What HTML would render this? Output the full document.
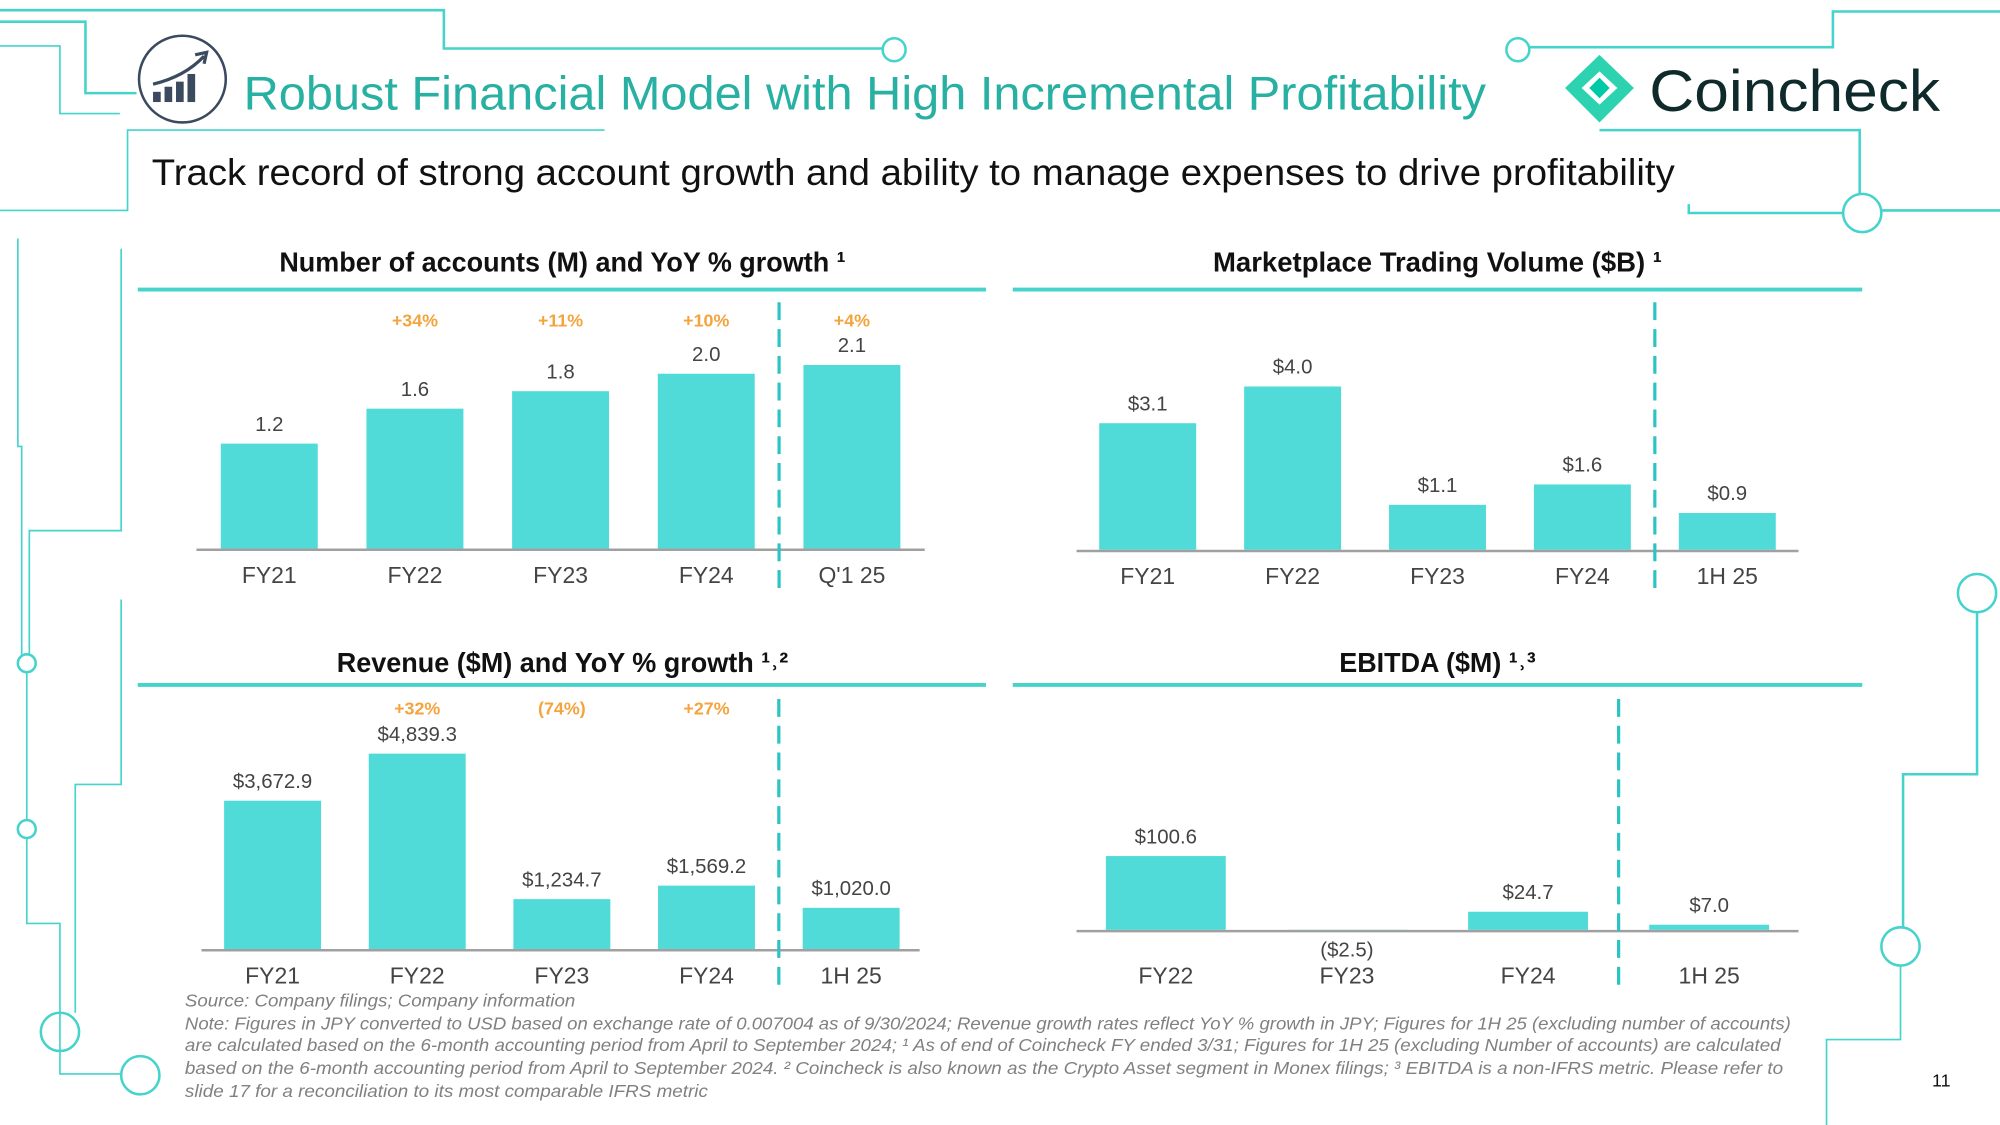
<!DOCTYPE html>
<html><head><meta charset="utf-8"><style>
html,body{margin:0;padding:0;background:#fff;}
svg{display:block;font-family:"Liberation Sans",sans-serif;}
</style></head><body>
<svg id="slide" width="2000" height="1125" viewBox="0 0 1568 882" preserveAspectRatio="none" xmlns="http://www.w3.org/2000/svg">
<g fill="none" stroke="#45d3cc" stroke-width="2">
  <polyline points="0,8 348,8 348,38 692,38"/>
  <circle cx="701" cy="39" r="9"/>
  <polyline points="0,17 67,17 67,73 107,73"/>
  <polyline points="0,36 47,36 47,89 94,89" stroke-width="1.3"/>
  <polyline points="474,102 100,102 100,165 0,165" stroke-width="1.3"/>
  <circle cx="1190" cy="39" r="9"/>
  <polyline points="1199,37 1437,37 1437,9 1568,9"/>
  <polyline points="1254,102 1458,102 1458,152"/>
  <circle cx="1460" cy="167" r="15"/>
  <polyline points="1324,160 1324,167 1445,167"/>
  <line x1="1475" y1="165" x2="1568" y2="165"/>
  <polyline points="14,187 14,350 17,350 17,513" stroke-width="1.3"/>
  <circle cx="21" cy="520" r="7"/>
  <line x1="21" y1="527" x2="21" y2="643" stroke-width="1.3"/>
  <circle cx="21" cy="650" r="7"/>
  <polyline points="21,657 21,724 47,724 47,842 95,842" stroke-width="1.3"/>
  <circle cx="110" cy="843" r="15"/>
  <polyline points="95,195 95,416 23,416 23,513" stroke-width="1.3"/>
  <polyline points="95,470 95,615 59,615 59,794" stroke-width="1.3"/>
  <circle cx="47" cy="809" r="15"/>
  <circle cx="1550" cy="465" r="15"/>
  <polyline points="1550,480 1550,607 1492,607 1492,727"/>
  <circle cx="1490" cy="742" r="15"/>
  <polyline points="1490,757 1490,815 1432,815 1432,882" stroke-width="1.3"/>
</g>
<g>
  <circle cx="143" cy="62" r="34" fill="#fff" stroke="#3b4a5e" stroke-width="2"/>
  <rect x="120" y="72" width="6" height="8" fill="#3b4a5e"/>
  <rect x="129" y="68" width="6" height="12" fill="#3b4a5e"/>
  <rect x="138" y="64" width="6" height="16" fill="#3b4a5e"/>
  <rect x="147" y="58" width="6" height="22" fill="#3b4a5e"/>
  <path d="M120,66 Q145,60 160,44" fill="none" stroke="#3b4a5e" stroke-width="2.5"/>
  <path d="M153,43 L162,41 L160,50" fill="none" stroke="#3b4a5e" stroke-width="2.5"/>
</g>
<text x="191" y="86" font-size="37" fill="#28b0a3" textLength="974" lengthAdjust="spacingAndGlyphs">Robust Financial Model with High Incremental Profitability</text>
<g>
  <polygon points="1254,43 1281,69 1254,96 1227,69" fill="#2dd3b0"/>
  <polygon points="1254,56 1268,69 1254,82 1240,69" fill="#fff"/>
  <polygon points="1254,61 1262,69 1254,77 1246,69" fill="#00c9a7"/>
  <text x="1293" y="87" font-size="46" fill="#0f2a2a" textLength="228" lengthAdjust="spacingAndGlyphs">Coincheck</text>
</g>
<text x="119" y="145" font-size="29" fill="#111" textLength="1194" lengthAdjust="spacingAndGlyphs">Track record of strong account growth and ability to manage expenses to drive profitability</text>

<g>
  <text x="441" y="213" font-size="22" font-weight="bold" text-anchor="middle" fill="#111" textLength="444" lengthAdjust="spacingAndGlyphs">Number of accounts (M) and YoY % growth ¹</text>
  <line x1="108" y1="227" x2="773" y2="227" stroke="#45d3cc" stroke-width="3"/>
  <text x="1127" y="213" font-size="22" font-weight="bold" text-anchor="middle" fill="#111" textLength="352" lengthAdjust="spacingAndGlyphs">Marketplace Trading Volume ($B) ¹</text>
  <line x1="794" y1="227" x2="1460" y2="227" stroke="#45d3cc" stroke-width="3"/>
  <text x="441" y="527" font-size="22" font-weight="bold" text-anchor="middle" fill="#111" textLength="354" lengthAdjust="spacingAndGlyphs">Revenue ($M) and YoY % growth ¹˒²</text>
  <line x1="108" y1="537" x2="773" y2="537" stroke="#45d3cc" stroke-width="3"/>
  <text x="1127" y="527" font-size="22" font-weight="bold" text-anchor="middle" fill="#111" textLength="154" lengthAdjust="spacingAndGlyphs">EBITDA ($M) ¹˒³</text>
  <line x1="794" y1="537" x2="1460" y2="537" stroke="#45d3cc" stroke-width="3"/>
</g>
<g id="charts"></g>
<g font-size="14" font-style="italic" fill="#808080">
  <text x="145" y="789" textLength="306" lengthAdjust="spacingAndGlyphs">Source: Company filings; Company information</text>
  <text x="145" y="807" textLength="1259" lengthAdjust="spacingAndGlyphs">Note: Figures in JPY converted to USD based on exchange rate of 0.007004 as of 9/30/2024; Revenue growth rates reflect YoY % growth in JPY; Figures for 1H 25 (excluding number of accounts)</text>
  <text x="145" y="824" textLength="1251" lengthAdjust="spacingAndGlyphs">are calculated based on the 6-month accounting period from April to September 2024; ¹ As of end of Coincheck FY ended 3/31; Figures for 1H 25  (excluding Number of accounts) are calculated</text>
  <text x="145" y="842" textLength="1253" lengthAdjust="spacingAndGlyphs">based on the 6-month accounting period from April to September 2024. ² Coincheck is also known as the Crypto Asset segment in Monex filings; ³ EBITDA is a non-IFRS metric. Please refer to</text>
  <text x="145" y="860" textLength="410" lengthAdjust="spacingAndGlyphs">slide 17 for a reconciliation to its most comparable IFRS metric</text>
</g>
<text x="1522" y="852" font-size="14" text-anchor="middle" fill="#111">11</text>
</svg>
<script>
// Accounts chart data
const accCategories = ["FY21","FY22","FY23","FY24","Q'1 25"];
const accValues = [1.2, 1.6, 1.8, 2.0, 2.1];
const accLabels = ["1.2","1.6","1.8","2.0","2.1"];
const accGrowth = ["","+34%","+11%","+10%","+4%"];
// Volume chart data
const volCategories = ["FY21","FY22","FY23","FY24","1H 25"];
const volValues = [3.1, 4.0, 1.1, 1.6, 0.9];
const volLabels = ["$3.1","$4.0","$1.1","$1.6","$0.9"];
// Revenue chart data
const revCategories = ["FY21","FY22","FY23","FY24","1H 25"];
const revValues = [3672.9, 4839.3, 1234.7, 1569.2, 1020.0];
const revLabels = ["$3,672.9","$4,839.3","$1,234.7","$1,569.2","$1,020.0"];
const revGrowth = ["","+32%","(74%)","+27%",""];
// EBITDA chart data
const ebCategories = ["FY22","FY23","FY24","1H 25"];
const ebValues = [100.6, -2.5, 24.7, 7.0];
const ebLabels = ["$100.6","($2.5)","$24.7","$7.0"];

const NS = "http://www.w3.org/2000/svg";
const root = document.getElementById("charts");
function mk(tag, attrs, parent, text){
  const e = document.createElementNS(NS, tag);
  for (const k in attrs) e.setAttribute(k, attrs[k]);
  if (text !== undefined) e.textContent = text;
  parent.appendChild(e);
  return e;
}
function drawChart(name, cats, vals, labels, growth, o){
  const g = mk("g", {}, root);
  
  
  const n = cats.length;
  const step = (o.x1 - o.x0) / n;
  const xc = i => o.x0 + step * (i + 0.5);
  const yv = v => o.base - v * o.scale;
  vals.forEach((v, i) => {
    const top = Math.min(yv(v), o.base), h = Math.max(Math.abs(yv(v) - o.base), 1.5);
    const r = mk("rect", {x: xc(i) - o.bw/2, y: top, width: o.bw, height: h, fill: "#50dbd9"}, g);
    
    
    const ly = v >= 0 ? yv(v) - 10 : o.base + 21;
    const t = mk("text", {x: xc(i), y: ly, "font-size": 16, "text-anchor": "middle", fill: "#444"}, g, labels[i]);
    
    
    const c = mk("text", {x: xc(i), y: o.catY, "font-size": 18, "text-anchor": "middle", fill: "#444"}, g, cats[i]);
    
    
    if (growth && growth[i]) {
      const gt = mk("text", {x: xc(i), y: o.growthY, "font-size": 14, "font-weight": "bold", "text-anchor": "middle", fill: "#f5a33d"}, g, growth[i]);
      
      
    }
  });
  const ax = mk("line", {x1: o.ax0, x2: o.ax1, y1: o.base + 1, y2: o.base + 1, stroke: "#a0a0a0", "stroke-width": 2}, g);
  
  
  const dx = o.x0 + step * (n - 1);
  const d = mk("line", {x1: dx, x2: dx, y1: o.dash0, y2: o.dash1, stroke: "#2bc3c3", "stroke-width": 2.5, "stroke-dasharray": "14,7"}, g);
  
  
}
drawChart("accounts-chart", accCategories, accValues, accLabels, accGrowth,
  {x0: 154, x1: 725, ax0: 154, ax1: 725, base: 430, scale: 68.5, bw: 76, catY: 457, growthY: 256, dash0: 237, dash1: 463});
drawChart("volume-chart", volCategories, volValues, volLabels, null,
  {x0: 843, x1: 1411, ax0: 844, ax1: 1410, base: 431, scale: 32, bw: 76, catY: 458, dash0: 237, dash1: 463});
drawChart("revenue-chart", revCategories, revValues, revLabels, revGrowth,
  {x0: 157, x1: 724, ax0: 158, ax1: 721, base: 744, scale: 0.03165, bw: 76, catY: 771, growthY: 560, dash0: 548, dash1: 775});
drawChart("ebitda-chart", ebCategories, ebValues, ebLabels, null,
  {x0: 843, x1: 1411, ax0: 844, ax1: 1410, base: 729, scale: 0.575, bw: 94, catY: 771, dash0: 548, dash1: 775});
</script>
</body></html>
